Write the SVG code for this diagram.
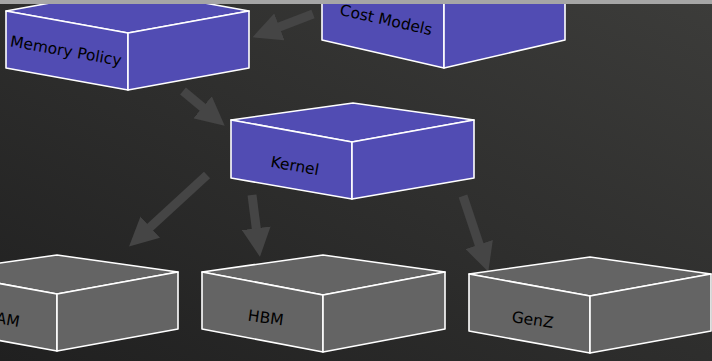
<svg xmlns="http://www.w3.org/2000/svg" width="712" height="361" viewBox="0 0 712 361">
<defs>
<linearGradient id="bg" x1="0" y1="1" x2="1" y2="0">
<stop offset="0" stop-color="#202020"/>
<stop offset="1" stop-color="#3c3c3a"/>
</linearGradient>
<marker id="ah" viewBox="0 0 10 10" refX="2" refY="5" markerWidth="3.2" markerHeight="3.2" orient="auto" markerUnits="strokeWidth">
<path d="M0,0 L10,5 L0,10 Z" fill="#454545"/>
</marker>
<style>
.blue{fill:#514cb3;stroke:#ffffff;stroke-width:1.6;stroke-linejoin:round}
.gray{fill:#646464;stroke:#ffffff;stroke-width:1.6;stroke-linejoin:round}
.lbl{font-family:"DejaVu Sans",sans-serif;font-size:15.5px;fill:#000000;text-anchor:middle}
.arr{stroke:#454545;stroke-width:9;fill:none}
</style>
</defs>
<rect x="0" y="0" width="712" height="361" fill="url(#bg)"/>
<g id="connectors">
<line class="arr" x1="313" y1="14" x2="274" y2="29" marker-end="url(#ah)"/>
<line class="arr" x1="183" y1="91" x2="207" y2="111" marker-end="url(#ah)"/>
<line class="arr" x1="207" y1="175" x2="146" y2="231" marker-end="url(#ah)"/>
<line class="arr" x1="252" y1="195" x2="257" y2="234" marker-end="url(#ah)"/>
<line class="arr" x1="463" y1="196" x2="481" y2="250" marker-end="url(#ah)"/>
</g>
<g id="memory-policy">
<path class="blue" d="M6,11 L127,-11 L249,11 L128,33 Z"/>
<path class="blue" d="M6,11 L128,33 L128,90 L6,68 Z"/>
<path class="blue" d="M128,33 L249,11 L249,68 L128,90 Z"/>
<text class="lbl" transform="translate(65,56) rotate(10)">Memory Policy</text>
</g>
<g id="cost-models">
<path class="blue" d="M322,-30 L444,-2 L444,68 L322,40 Z"/>
<path class="blue" d="M444,-2 L565,-30 L565,40 L444,68 Z"/>
<text class="lbl" transform="translate(385,25) rotate(12.5)">Cost Models</text>
</g>
<g id="kernel">
<path class="blue" d="M231,120 L353,103 L474,120 L352,142 Z"/>
<path class="blue" d="M231,120 L352,142 L352,199 L231,178 Z"/>
<path class="blue" d="M352,142 L474,120 L474,178 L352,199 Z"/>
<text class="lbl" transform="translate(294,171) rotate(10)">Kernel</text>
</g>
<g id="dram">
<path class="gray" d="M-64,272 L57,255 L178,272 L57,294 Z"/>
<path class="gray" d="M-64,272 L57,294 L57,351 L-64,329 Z"/>
<path class="gray" d="M57,294 L178,272 L178,329 L57,351 Z"/>
<text class="lbl" transform="translate(-4,323) rotate(10)">DRAM</text>
</g>
<g id="hbm">
<path class="gray" d="M202,272 L323,255 L445,272 L323,295 Z"/>
<path class="gray" d="M202,272 L323,295 L323,352 L202,329 Z"/>
<path class="gray" d="M323,295 L445,272 L445,329 L323,352 Z"/>
<text class="lbl" transform="translate(265,323) rotate(8)">HBM</text>
</g>
<g id="genz">
<path class="gray" d="M469,274 L590,257 L711,274 L590,296 Z"/>
<path class="gray" d="M469,274 L590,296 L590,353 L469,331 Z"/>
<path class="gray" d="M590,296 L711,274 L711,331 L590,353 Z"/>
<text class="lbl" transform="translate(532,325) rotate(8)">GenZ</text>
</g>
<rect x="0" y="0" width="712" height="4" fill="#a6a6a6"/>
</svg>
